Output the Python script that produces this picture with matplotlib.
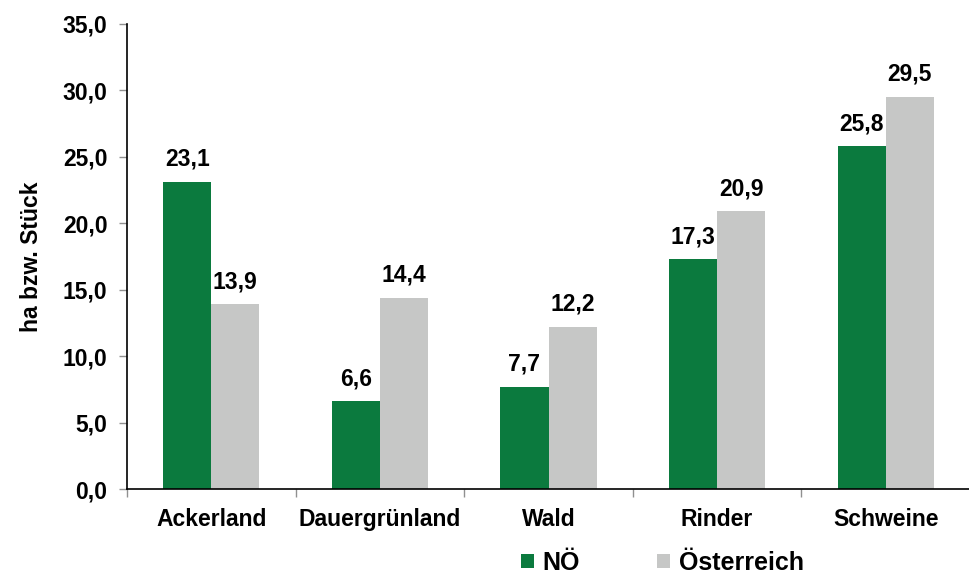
import numpy as np
import matplotlib.pyplot as plt
from matplotlib.ticker import FixedLocator, FuncFormatter

plt.rcParams['font.family'] = ['Liberation Sans', 'DejaVu Sans']
plt.rcParams['font.weight'] = 'bold'

# data
kategorien = ["Ackerland", "Dauergrünland", "Wald", "Rinder", "Schweine"]
noe = [23.1, 6.6, 7.7, 17.3, 25.8]
oesterreich = [13.9, 14.4, 12.2, 20.9, 29.5]
serien = ["NÖ", "Österreich"]

GRUEN = "#0b7a3e"
GRAU = "#c6c7c6"

fig = plt.figure(figsize=(9.69, 5.77), dpi=100)
ax = fig.add_axes([127 / 969, 1 - 489 / 577, (970 - 127) / 969, (489 - 24) / 577])

x = np.arange(len(kategorien))
w = 0.285
b1 = ax.bar(x - w / 2, noe, w, color=GRUEN, label=serien[0])
b2 = ax.bar(x + w / 2, oesterreich, w, color=GRAU, label=serien[1])

fmt = lambda v: f"{v:.1f}".replace(".", ",")
for bars in (b1, b2):
    for rect in bars:
        h = rect.get_height()
        ax.annotate(fmt(h), (rect.get_x() + rect.get_width() / 2, h),
                    xytext=(0, 8), textcoords="offset points",
                    ha="center", va="bottom", fontsize=16.5, fontweight="bold")

ax.set_xlim(-0.5, len(kategorien) - 0.5)
ax.set_ylim(0, 35)
ax.set_yticks(np.arange(0, 35.1, 5))
ax.yaxis.set_major_formatter(FuncFormatter(lambda v, p: fmt(v)))
ax.set_xticks(x)
ax.set_xticklabels(kategorien)
ax.xaxis.set_minor_locator(FixedLocator(np.arange(-0.5, len(kategorien), 1)))
ax.tick_params(axis="x", which="major", length=0, pad=14, labelsize=16.5)
ax.tick_params(axis="x", which="minor", length=6, color="#909090", width=1)
ax.tick_params(axis="y", length=6, color="#909090", width=1, pad=8, labelsize=16.5)

ax.spines["top"].set_visible(False)
ax.spines["right"].set_visible(False)
ax.spines["left"].set_linewidth(1.2)
ax.spines["bottom"].set_linewidth(1.2)

ax.set_ylabel("ha bzw. Stück", fontsize=16.5, fontweight="bold", labelpad=14)

fig.legend(loc="lower left", bbox_to_anchor=(498 / 969, -0.035), ncol=2, frameon=False,
           handlelength=0.52, handleheight=0.52, handletextpad=0.35,
           columnspacing=3.1, prop={"weight": "bold", "size": 18})

fig.savefig("out.png", dpi=100)
